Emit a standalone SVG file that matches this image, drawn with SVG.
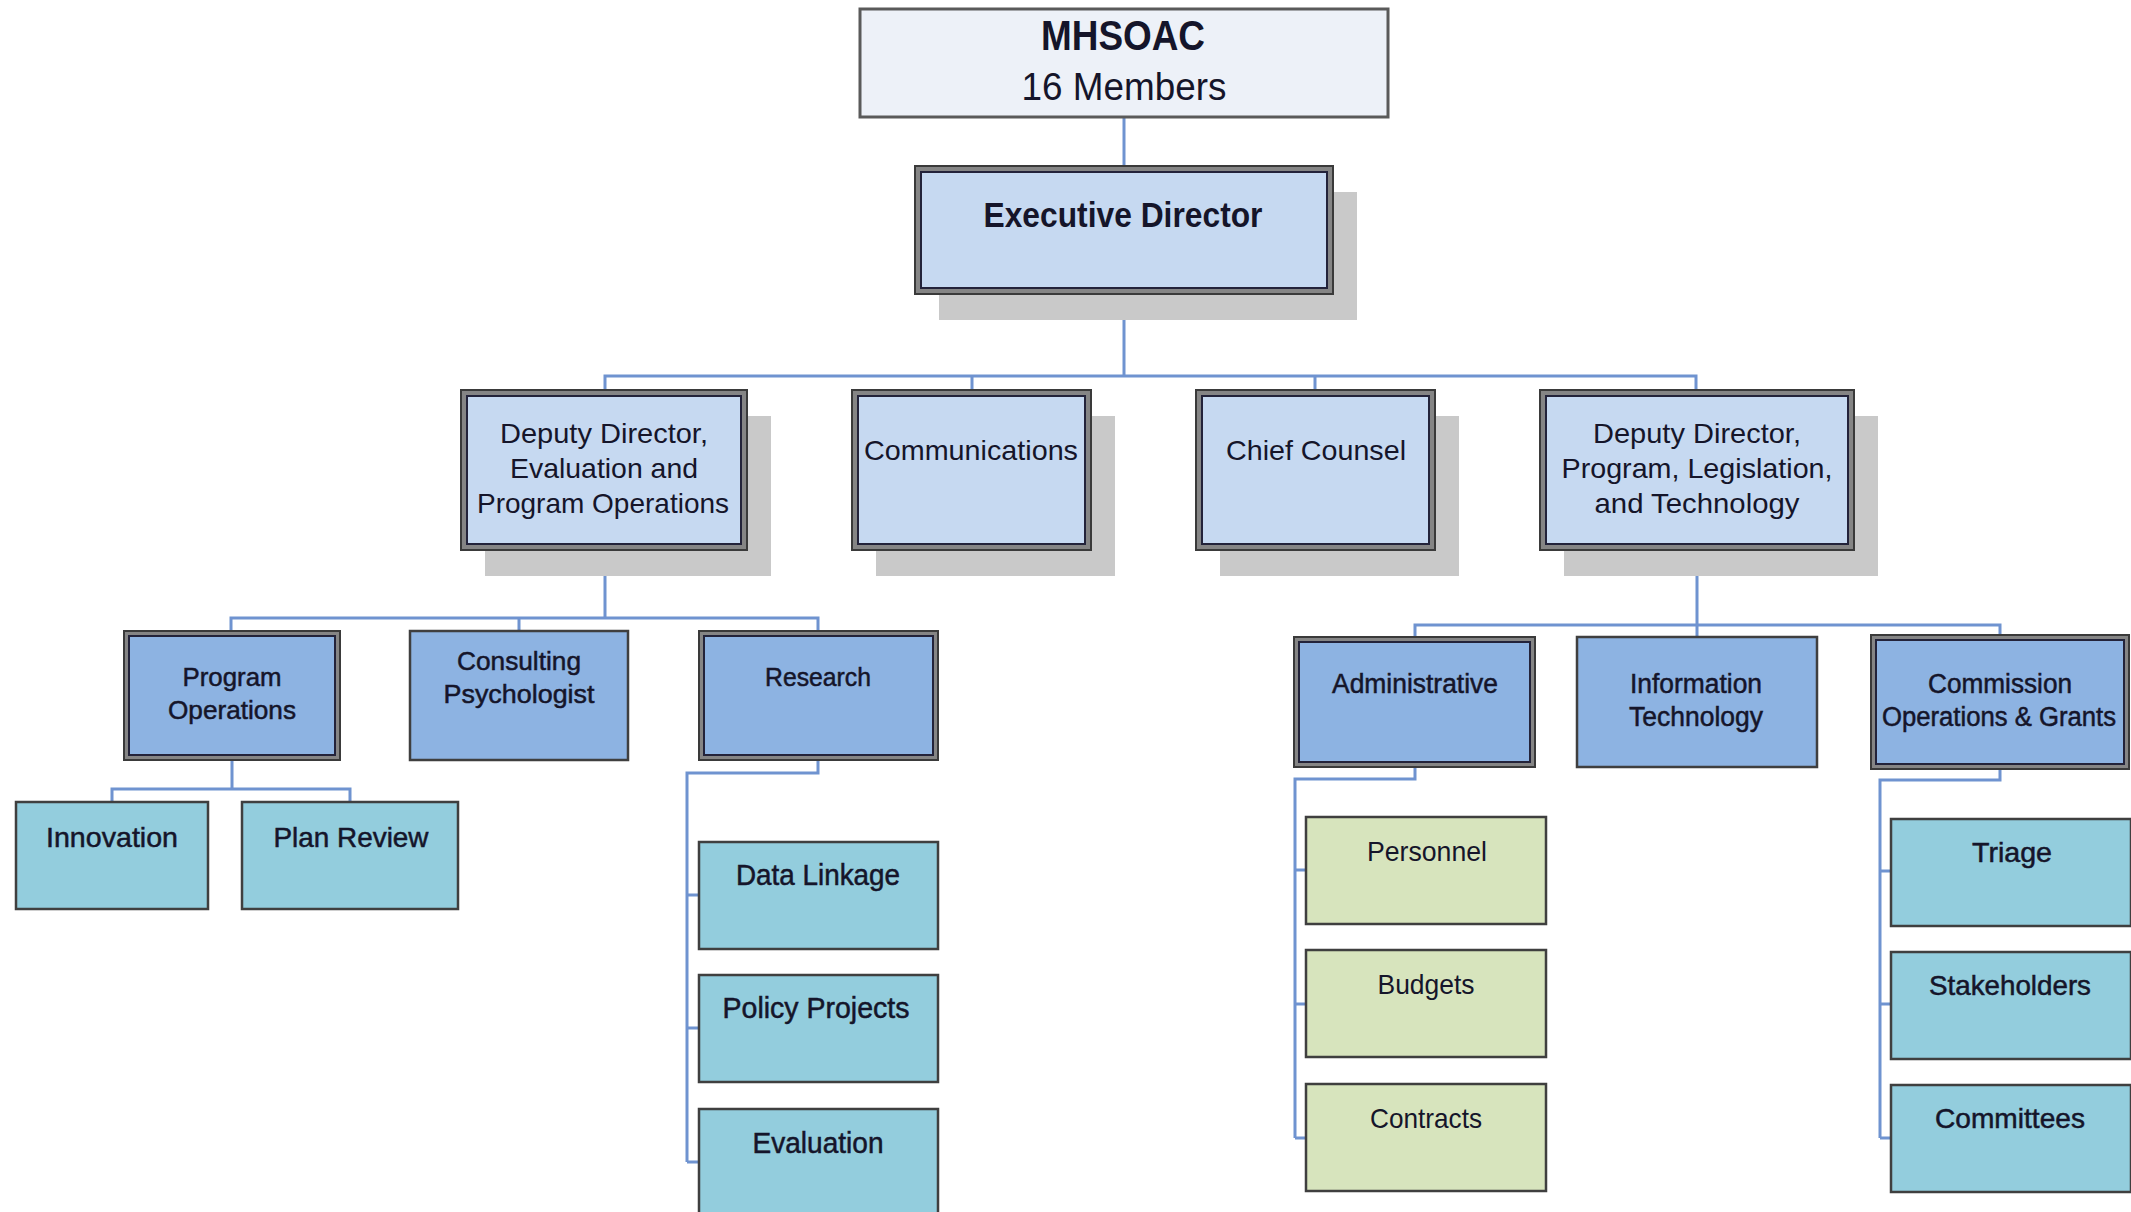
<svg xmlns="http://www.w3.org/2000/svg" width="2131" height="1212" viewBox="0 0 2131 1212">
<style>
text{font-family:"Liberation Sans",Arial,sans-serif;fill:#15152a;text-anchor:middle}
.b{font-weight:bold}
.sb{stroke:#15152a;stroke-width:0.5}
.shadow{fill:#c9c9c9}
.top{fill:#edf1f8;stroke:#5a5a5a;stroke-width:3}
.outer{fill:#858585;stroke:#3a3a3a;stroke-width:2}
.l2{fill:#c6d9f1;stroke:#23233a;stroke-width:2}
.l3{fill:#8db3e2;stroke:#23233a;stroke-width:2}
.l3s{fill:#8db3e2;stroke:#3f3f3f;stroke-width:2.5}
.teal{fill:#93cddd;stroke:#3f3f3f;stroke-width:2.5}
.green{fill:#d7e4bd;stroke:#3f3f3f;stroke-width:2.5}
#connectors path{fill:none;stroke:#6f93d0;stroke-width:3}
</style>
<g id="connectors">
<path d="M1124,117V166"/>
<path d="M1124,294V376M605,390V376H1696V390M972,376V390M1315,376V390"/>
<path d="M605,550V618M231,631V618H818V631M519,618V631"/>
<path d="M232,760V789M112,802V789H350V802"/>
<path d="M818,760V773H687V1162M687,895H699M687,1028H699M687,1162H699"/>
<path d="M1697,552V625M1415,637V625H2000V635M1697,625V637"/>
<path d="M1415,767V779H1295V1138M1295,870H1306M1295,1004H1306M1295,1138H1306"/>
<path d="M2000,769V780H1880V1138M1880,871H1891M1880,1004H1891M1880,1138H1891"/>
</g>
<g id="mhsoac">
<rect class="top" x="860" y="9" width="528" height="108"/>
<text class="b" x="1123" y="50" font-size="43" textLength="164" lengthAdjust="spacingAndGlyphs">MHSOAC</text>
<text x="1124" y="100" font-size="39" textLength="205" lengthAdjust="spacingAndGlyphs">16 Members</text>
</g>
<g id="executive-director">
<rect class="shadow" x="939" y="192" width="418" height="128"/>
<rect class="outer" x="915" y="166" width="418" height="128"/>
<rect class="l2" x="921" y="172" width="406" height="116"/>
<text class="b" x="1123" y="227" font-size="35" textLength="279" lengthAdjust="spacingAndGlyphs">Executive Director</text>
</g>
<g id="dd-eval">
<rect class="shadow" x="485" y="416" width="286" height="160"/>
<rect class="outer" x="461" y="390" width="286" height="160"/>
<rect class="l2" x="467" y="396" width="274" height="148"/>
<text x="604" y="443" font-size="28" textLength="208" lengthAdjust="spacingAndGlyphs">Deputy Director,</text>
<text x="604" y="478" font-size="28" textLength="188" lengthAdjust="spacingAndGlyphs">Evaluation and</text>
<text x="603" y="513" font-size="28" textLength="252" lengthAdjust="spacingAndGlyphs">Program Operations</text>
</g>
<g id="communications">
<rect class="shadow" x="876" y="416" width="239" height="160"/>
<rect class="outer" x="852" y="390" width="239" height="160"/>
<rect class="l2" x="858" y="396" width="227" height="148"/>
<text x="971" y="460" font-size="28" textLength="214" lengthAdjust="spacingAndGlyphs">Communications</text>
</g>
<g id="chief-counsel">
<rect class="shadow" x="1220" y="416" width="239" height="160"/>
<rect class="outer" x="1196" y="390" width="239" height="160"/>
<rect class="l2" x="1202" y="396" width="227" height="148"/>
<text x="1316" y="460" font-size="28" textLength="180" lengthAdjust="spacingAndGlyphs">Chief Counsel</text>
</g>
<g id="dd-program">
<rect class="shadow" x="1564" y="416" width="314" height="160"/>
<rect class="outer" x="1540" y="390" width="314" height="160"/>
<rect class="l2" x="1546" y="396" width="302" height="148"/>
<text x="1697" y="443" font-size="28" textLength="208" lengthAdjust="spacingAndGlyphs">Deputy Director,</text>
<text x="1697" y="478" font-size="28" textLength="271" lengthAdjust="spacingAndGlyphs">Program, Legislation,</text>
<text x="1697" y="513" font-size="28" textLength="205" lengthAdjust="spacingAndGlyphs">and Technology</text>
</g>
<g id="program-operations">
<rect class="outer" x="124" y="631" width="216" height="129"/>
<rect class="l3" x="129" y="636" width="206" height="119"/>
<text class="sb" x="232" y="686" font-size="26" textLength="99" lengthAdjust="spacingAndGlyphs">Program</text>
<text class="sb" x="232" y="719" font-size="26" textLength="128" lengthAdjust="spacingAndGlyphs">Operations</text>
</g>
<g id="consulting-psychologist">
<rect class="l3s" x="410" y="631" width="218" height="129"/>
<text class="sb" x="519" y="670" font-size="26" textLength="124" lengthAdjust="spacingAndGlyphs">Consulting</text>
<text class="sb" x="519" y="703" font-size="26" textLength="151" lengthAdjust="spacingAndGlyphs">Psychologist</text>
</g>
<g id="research">
<rect class="outer" x="699" y="631" width="239" height="129"/>
<rect class="l3" x="704" y="636" width="229" height="119"/>
<text class="sb" x="818" y="686" font-size="26" textLength="106" lengthAdjust="spacingAndGlyphs">Research</text>
</g>
<g id="innovation">
<rect class="teal" x="16" y="802" width="192" height="107"/>
<text class="sb" x="112" y="847" font-size="28" textLength="132" lengthAdjust="spacingAndGlyphs">Innovation</text>
</g>
<g id="plan-review">
<rect class="teal" x="242" y="802" width="216" height="107"/>
<text class="sb" x="351" y="847" font-size="28" textLength="155" lengthAdjust="spacingAndGlyphs">Plan Review</text>
</g>
<g id="data-linkage">
<rect class="teal" x="699" y="842" width="239" height="107"/>
<text class="sb" x="818" y="885" font-size="29" textLength="164" lengthAdjust="spacingAndGlyphs">Data Linkage</text>
</g>
<g id="policy-projects">
<rect class="teal" x="699" y="975" width="239" height="107"/>
<text class="sb" x="816" y="1018" font-size="29" textLength="187" lengthAdjust="spacingAndGlyphs">Policy Projects</text>
</g>
<g id="evaluation">
<rect class="teal" x="699" y="1109" width="239" height="110"/>
<text class="sb" x="818" y="1153" font-size="29" textLength="131" lengthAdjust="spacingAndGlyphs">Evaluation</text>
</g>
<g id="administrative">
<rect class="outer" x="1294" y="637" width="241" height="130"/>
<rect class="l3" x="1299" y="642" width="231" height="120"/>
<text class="sb" x="1415" y="693" font-size="27" textLength="166" lengthAdjust="spacingAndGlyphs">Administrative</text>
</g>
<g id="information-technology">
<rect class="l3s" x="1577" y="637" width="240" height="130"/>
<text class="sb" x="1696" y="693" font-size="27" textLength="132" lengthAdjust="spacingAndGlyphs">Information</text>
<text class="sb" x="1696" y="726" font-size="27" textLength="134" lengthAdjust="spacingAndGlyphs">Technology</text>
</g>
<g id="commission-operations">
<rect class="outer" x="1871" y="635" width="258" height="134"/>
<rect class="l3" x="1876" y="640" width="248" height="124"/>
<text class="sb" x="2000" y="693" font-size="27" textLength="144" lengthAdjust="spacingAndGlyphs">Commission</text>
<text class="sb" x="1999" y="726" font-size="27" textLength="234" lengthAdjust="spacingAndGlyphs">Operations &amp; Grants</text>
</g>
<g id="personnel">
<rect class="green" x="1306" y="817" width="240" height="107"/>
<text x="1427" y="861" font-size="28" textLength="120" lengthAdjust="spacingAndGlyphs">Personnel</text>
</g>
<g id="budgets">
<rect class="green" x="1306" y="950" width="240" height="107"/>
<text x="1426" y="994" font-size="28" textLength="97" lengthAdjust="spacingAndGlyphs">Budgets</text>
</g>
<g id="contracts">
<rect class="green" x="1306" y="1084" width="240" height="107"/>
<text x="1426" y="1128" font-size="28" textLength="112" lengthAdjust="spacingAndGlyphs">Contracts</text>
</g>
<g id="triage">
<rect class="teal" x="1891" y="819" width="240" height="107"/>
<text class="sb" x="2012" y="862" font-size="28" textLength="80" lengthAdjust="spacingAndGlyphs">Triage</text>
</g>
<g id="stakeholders">
<rect class="teal" x="1891" y="952" width="240" height="107"/>
<text class="sb" x="2010" y="995" font-size="28" textLength="162" lengthAdjust="spacingAndGlyphs">Stakeholders</text>
</g>
<g id="committees">
<rect class="teal" x="1891" y="1085" width="240" height="107"/>
<text class="sb" x="2010" y="1128" font-size="28" textLength="150" lengthAdjust="spacingAndGlyphs">Committees</text>
</g>
</svg>
